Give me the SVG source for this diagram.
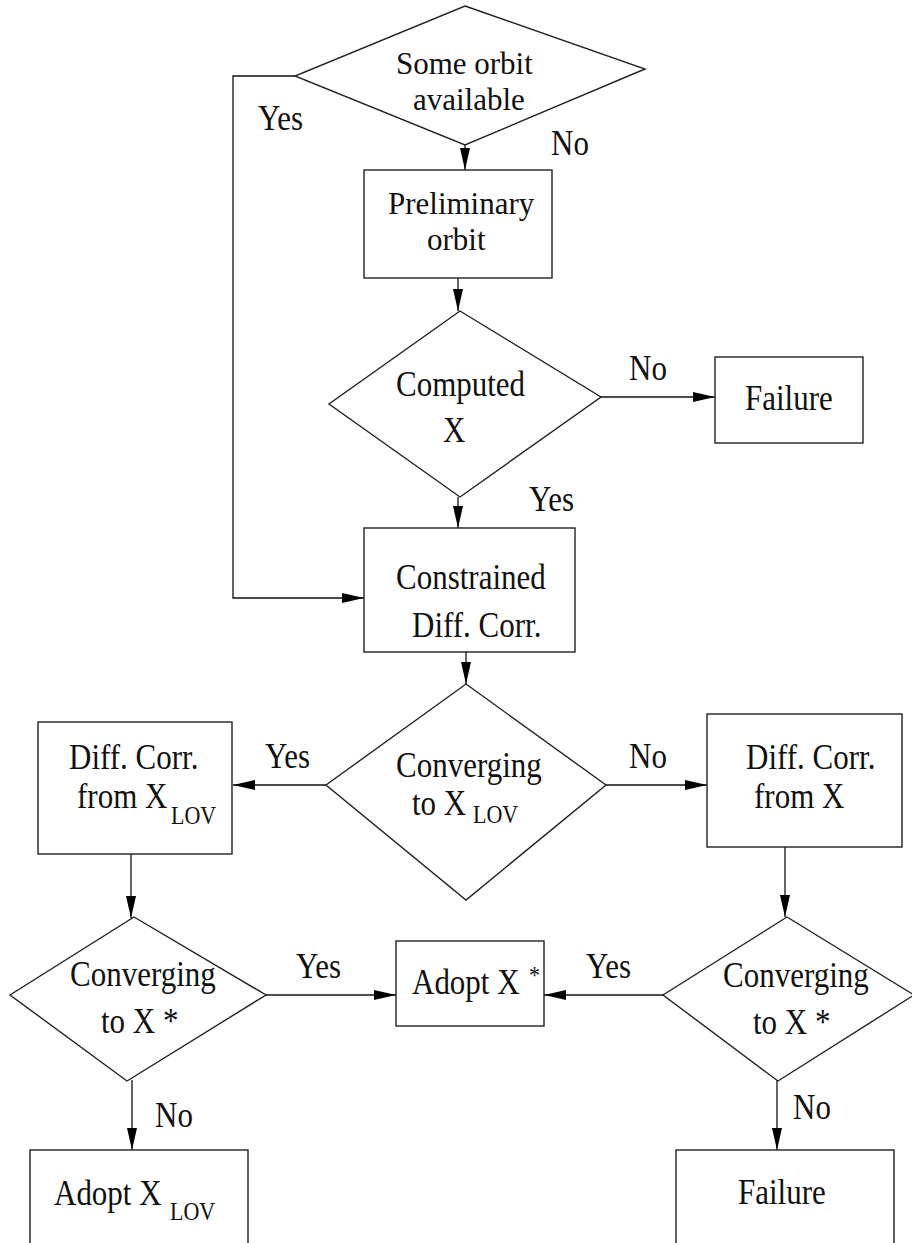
<svg xmlns="http://www.w3.org/2000/svg" width="912" height="1243" viewBox="0 0 912 1243">
<style>
.shape{fill:#fff;stroke:#222;stroke-width:1.4}
.conn{fill:none;stroke:#111;stroke-width:1.3}
text{font-family:"Liberation Serif","Times New Roman",serif;font-size:31px;fill:#111}
.sub{font-size:22px}
</style>
<defs>
<marker id="arr" markerUnits="userSpaceOnUse" markerWidth="24" markerHeight="12" refX="22" refY="5" orient="auto">
<path d="M0,0 L22,5 L0,10 Z" fill="#000"/>
</marker>
</defs>
<rect width="912" height="1243" fill="#fff"/>
<g id="connectors">
<path class="conn" d="M465,145 L465,170" marker-end="url(#arr)"/>
<path class="conn" d="M295,76 L233,76 L233,598 L364,598" marker-end="url(#arr)"/>
<path class="conn" d="M458,278 L458,311" marker-end="url(#arr)"/>
<path class="conn" d="M601,397 L715,397" marker-end="url(#arr)"/>
<path class="conn" d="M458,497 L458,528" marker-end="url(#arr)"/>
<path class="conn" d="M466,652 L466,684" marker-end="url(#arr)"/>
<path class="conn" d="M326,785 L233,785" marker-end="url(#arr)"/>
<path class="conn" d="M606,785 L707,785" marker-end="url(#arr)"/>
<path class="conn" d="M131,854 L131,918" marker-end="url(#arr)"/>
<path class="conn" d="M785,847 L785,917" marker-end="url(#arr)"/>
<path class="conn" d="M266,995 L396,995" marker-end="url(#arr)"/>
<path class="conn" d="M663,995 L544,995" marker-end="url(#arr)"/>
<path class="conn" d="M132,1080 L132,1150" marker-end="url(#arr)"/>
<path class="conn" d="M777,1080 L777,1150" marker-end="url(#arr)"/>
<text transform="translate(258,130) scale(1,1.15)">Yes</text>
<text transform="translate(551,155) scale(1,1.15)">No</text>
<text transform="translate(629,380) scale(1,1.15)">No</text>
<text transform="translate(529,511) scale(1,1.15)">Yes</text>
<text transform="translate(265,768) scale(1,1.15)">Yes</text>
<text transform="translate(629,768) scale(1,1.15)">No</text>
<text transform="translate(296,978) scale(1,1.15)">Yes</text>
<text transform="translate(586,978) scale(1,1.15)">Yes</text>
<text transform="translate(155,1127) scale(1,1.15)">No</text>
<text transform="translate(793,1119) scale(1,1.15)">No</text>
</g>
<g id="orbit-available">
<polygon class="shape" points="465,6 645,69 465,145 295,76"/>
<text transform="translate(396,74) scale(1,1.05)">Some orbit</text>
<text transform="translate(413,110) scale(1,1.05)">available</text>
</g>
<g id="preliminary-orbit">
<rect class="shape" x="364" y="170" width="188" height="108"/>
<text transform="translate(388,214) scale(1,1.05)">Preliminary</text>
<text transform="translate(427,250) scale(1,1.05)">orbit</text>
</g>
<g id="computed-x">
<polygon class="shape" points="460,311 601,397 460,497 329,404"/>
<text transform="translate(396,396) scale(1,1.15)">Computed</text>
<text transform="translate(443,442) scale(1,1.15)">X</text>
</g>
<g id="failure-top">
<rect class="shape" x="715" y="357" width="148" height="86"/>
<text transform="translate(745,410) scale(1,1.15)">Failure</text>
</g>
<g id="constrained-dc">
<rect class="shape" x="364" y="528" width="211" height="124"/>
<text transform="translate(396,589) scale(1,1.15)">Constrained</text>
<text transform="translate(412,637) scale(1,1.15)">Diff. Corr.</text>
</g>
<g id="converging-lov">
<polygon class="shape" points="466,684 606,785 466,900 326,785"/>
<text transform="translate(396,777) scale(1,1.15)">Converging</text>
<text transform="translate(412,815) scale(1,1.15)">to X</text>
<text class="sub" transform="translate(473,823) scale(1,1.15)">LOV</text>
</g>
<g id="dc-from-lov">
<rect class="shape" x="38" y="722" width="194" height="132"/>
<text transform="translate(69,769) scale(1,1.15)">Diff. Corr.</text>
<text transform="translate(77,808) scale(1,1.15)">from X</text>
<text class="sub" transform="translate(171,824) scale(1,1.15)">LOV</text>
</g>
<g id="dc-from-x">
<rect class="shape" x="707" y="714" width="195" height="133"/>
<text transform="translate(746,769) scale(1,1.15)">Diff. Corr.</text>
<text transform="translate(754,808) scale(1,1.15)">from X</text>
</g>
<g id="converging-left">
<polygon class="shape" points="134,917 266,995 127,1081 10,995"/>
<text transform="translate(70,986) scale(1,1.15)">Converging</text>
<text transform="translate(101,1033) scale(1,1.15)">to X *</text>
</g>
<g id="adopt-star">
<rect class="shape" x="396" y="941" width="148" height="85"/>
<text transform="translate(412,994) scale(1,1.15)">Adopt X</text>
<text class="sub" transform="translate(529,984) scale(1,1.15)">*</text>
</g>
<g id="converging-right">
<polygon class="shape" points="787,917 914,995 778,1081 663,995"/>
<text transform="translate(723,987) scale(1,1.15)">Converging</text>
<text transform="translate(753,1034) scale(1,1.15)">to X *</text>
</g>
<g id="adopt-lov">
<rect class="shape" x="30" y="1150" width="218" height="110"/>
<text transform="translate(54,1205) scale(1,1.15)">Adopt X</text>
<text class="sub" transform="translate(170,1220) scale(1,1.15)">LOV</text>
</g>
<g id="failure-bottom">
<rect class="shape" x="676" y="1150" width="218" height="110"/>
<text transform="translate(738,1204) scale(1,1.15)">Failure</text>
</g>
</svg>
